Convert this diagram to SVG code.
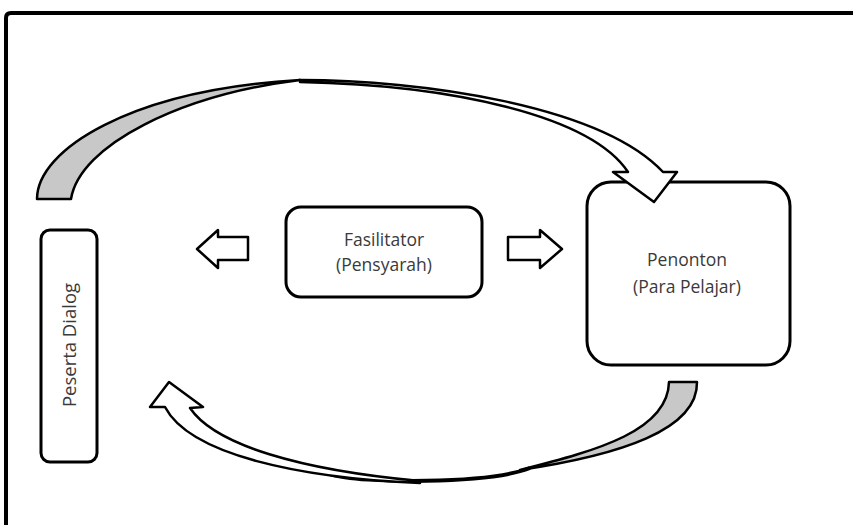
<svg xmlns="http://www.w3.org/2000/svg" width="853" height="525" viewBox="0 0 853 525">
<style>
.box{fill:#fff;stroke:#000;stroke-width:3}
.lbl{font-family:"Open Sans","Liberation Sans",sans-serif;font-size:17.5px;fill:#3a3a3a;text-anchor:middle}
.arr{stroke:#000;stroke-width:2.5;stroke-linejoin:round}
.white{fill:#fff}
.grey{fill:#c8c8c8}
</style>
<rect x="0" y="0" width="853" height="525" fill="#fff"/>
<path d="M6,525 L6,18 Q6,13 11,13 L853,13" fill="none" stroke="#000" stroke-width="4"/>
<g id="peserta">
<rect class="box" x="41" y="230" width="56" height="232" rx="9"/>
<text class="lbl" transform="translate(76,345) rotate(-90)" x="0" y="0" style="font-size:18.5px">Peserta Dialog</text>
</g>
<g id="fasilitator">
<rect class="box" x="286" y="207" width="196" height="90" rx="15"/>
<text class="lbl" x="384" y="246">Fasilitator</text>
<text class="lbl" x="384" y="271">(Pensyarah)</text>
</g>
<g id="penonton">
<rect class="box" x="587" y="182" width="203" height="183" rx="24"/>
<text class="lbl" x="687" y="266">Penonton</text>
<text class="lbl" x="687" y="293">(Para Pelajar)</text>
</g>
<g id="connectors">
<path class="arr white" d="M197,249 L218,230 L218,237 L248,237 L248,260 L218,260 L218,268 Z"/>
<path class="arr white" d="M562,249 L540,230 L540,237 L508,237 L508,260 L540,260 L540,268 Z"/>
<path class="arr grey" d="M37,199 C37,150 130,90 300,80 C180,95 80,145 71,199 Z"/>
<path class="arr white" d="M300,80 C420,80 600,105 663,172 L677,172 L654,202 L613,172 L628,172 C590,115 450,85 300,82 Z"/>
<path class="arr grey" d="M669,382 L697,382 C698,430 620,455 520,470 C600,450 668,430 669,382 Z"/>
<path d="M530,468 C490,484 360,484 330,474" fill="none" stroke="#000" stroke-width="4"/>
<path class="arr white" d="M169,382 L203,407 L190,408 C215,445 300,470 420,481 L420,483 C300,478 190,455 165,407 L150,407 Z"/>
</g>
</svg>
